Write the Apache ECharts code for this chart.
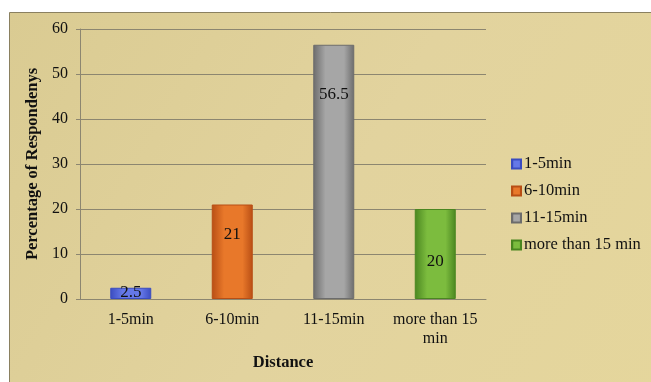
<!DOCTYPE html>
<html>
	<head>
		<meta charset="utf-8">
		<title>Distance</title>
		<style>
			html, body { margin: 0; padding: 0; background: #fff; }
			#chart { width: 651px; height: 382px; }
		</style>
		<script src="https://cdn.jsdelivr.net/npm/echarts@6/dist/echarts.min.js"></script>
	</head>
	<body>
		<div id="chart"></div>
		<script>
			var categories = ['1-5min', '6-10min', '11-15min', 'more than 15\nmin'];
			var seriesNames = ['1-5min', '6-10min', '11-15min', 'more than 15 min'];
			var values = [2.5, 21, 56.5, 20];
			var yTicks = { min: 0, max: 60, interval: 10 };

			var serif = '"Liberation Serif", "DejaVu Serif", serif';
			// light / dark pairs for the bevelled bars
			var colors = [
				['#6578e8', '#3a4cc0'],
				['#e8782a', '#b84e14'],
				['#a6a6a6', '#6c6c6c'],
				['#7cbc3e', '#4a8620']
			];
			var labelOffsets = [[0, -1], [0, -17], [0, -77], [0, 8]];

			var grad = function(c) {
				return new echarts.graphic.LinearGradient(0, 0, 1, 0, [
					{ offset: 0, color: c[1] },
					{ offset: 0.3, color: c[0] },
					{ offset: 0.75, color: c[0] },
					{ offset: 1, color: c[1] }
				]);
			};

			var series = [];
			for (var i = 0; i < seriesNames.length; i++) {
				var d = [];
				for (var j = 0; j < categories.length; j++) {
					d.push(i == j ? values[i] : '-');
				}
				series.push({
					name: seriesNames[i],
					type: 'bar',
					stack: 'one',
					barWidth: 41,
					data: d,
					itemStyle: {
						color: grad(colors[i]),
						borderColor: colors[i][1],
						borderWidth: 1
					},
					label: {
						show: true,
						position: 'inside',
						offset: labelOffsets[i],
						color: '#111',
						fontFamily: serif,
						fontSize: 17
					}
				});
			}

			var chart = echarts.init(document.getElementById('chart'));
			chart.setOption({
				animation: false,
				graphic: [{
					type: 'rect',
					z: -10,
					shape: { x: 9.5, y: 12.5, width: 660, height: 380 },
					style: {
						fill: new echarts.graphic.LinearGradient(0, 0, 1, 1, [
							{ offset: 0, color: '#dacb92' },
							{ offset: 0.5, color: '#e2d39e' },
							{ offset: 1, color: '#e5d69c' }
						]),
						stroke: '#8a8060',
						lineWidth: 1
					}
				}],
				color: colors.map(function(c) { return c[1]; }),
				legend: {
					orient: 'vertical',
					left: 506,
					top: 150,
					itemWidth: 9,
					itemHeight: 9,
					itemGap: 9,
					icon: 'rect',
					data: seriesNames,
					textStyle: { fontFamily: serif, fontSize: 16.5, color: '#111', lineHeight: 18, padding: [0, 0, 0, -2] }
				},
				grid: { left: 80, right: 165, top: 29, bottom: 83 },
				xAxis: {
					type: 'category',
					data: categories,
					name: 'Distance',
					nameLocation: 'middle',
					nameGap: 55,
					nameTextStyle: { fontFamily: serif, fontSize: 16.5, fontWeight: 'bold', color: '#111' },
					axisLine: { lineStyle: { color: '#8c8670' } },
					axisTick: { show: false },
					axisLabel: { fontFamily: serif, fontSize: 16, color: '#111', margin: 11, lineHeight: 19, interval: 0 }
				},
				yAxis: {
					type: 'value',
					min: yTicks.min,
					max: yTicks.max,
					interval: yTicks.interval,
					name: 'Percentage of Respondenys',
					nameLocation: 'middle',
					nameGap: 35,
					nameTextStyle: { fontFamily: serif, fontSize: 16.5, fontWeight: 'bold', color: '#111' },
					axisLine: { show: true, lineStyle: { color: '#8c8670' } },
					axisTick: { show: true, length: 4, lineStyle: { color: '#8c8670' } },
					axisLabel: { fontFamily: serif, fontSize: 16, color: '#111', margin: 12 },
					splitLine: { lineStyle: { color: '#8c8670' } }
				},
				series: series
			});
		</script>
	</body>
</html>
